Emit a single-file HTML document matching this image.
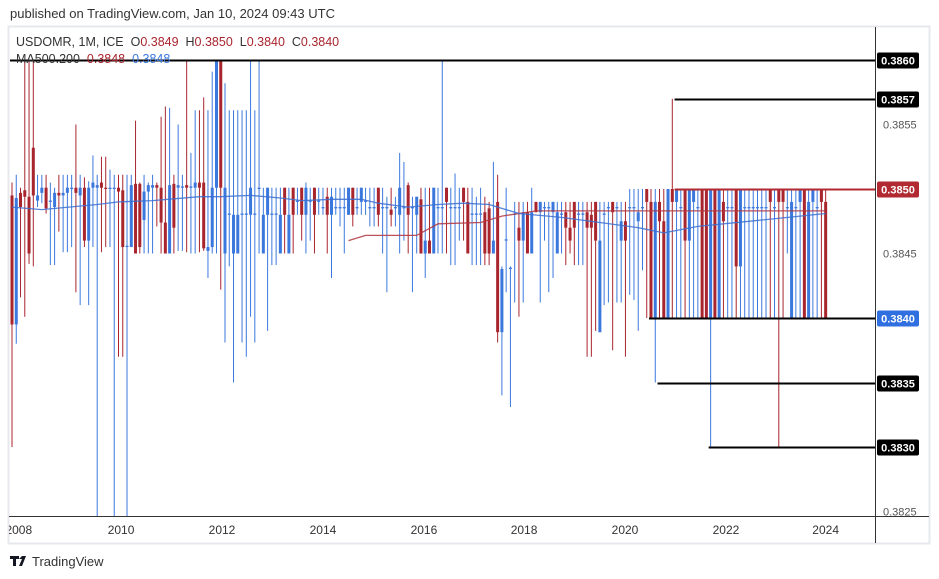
<!DOCTYPE html>
<html><head><meta charset="utf-8"><style>
body{margin:0;background:#fff;width:939px;height:579px;overflow:hidden;font-family:"Liberation Sans",sans-serif}
svg{display:block}
text{font-family:"Liberation Sans",sans-serif}
</style></head><body>
<svg id="chart" width="939" height="579" viewBox="0 0 939 579" xmlns="http://www.w3.org/2000/svg">
<text x="10" y="18" font-size="13" fill="#333">published on TradingView.com, Jan 10, 2024 09:43 UTC</text>
<rect x="8.5" y="26.5" width="921" height="517" fill="#fff" stroke="#e6e8ee" stroke-width="2"/>
<g id="plot"></g>
<line x1="875.5" y1="27" x2="875.5" y2="543" stroke="#333" stroke-width="1"/>
<line x1="9" y1="516.5" x2="929" y2="516.5" stroke="#333" stroke-width="1"/>
<g id="ticks"></g>
<g id="levels"></g>
<text x="16" y="46" font-size="12.5" fill="#333" xml:space="preserve">USDOMR, 1M, ICE  O<tspan fill="#a9252e">0.3849</tspan>  H<tspan fill="#a9252e">0.3850</tspan>  L<tspan fill="#a9252e">0.3840</tspan>  C<tspan fill="#a9252e">0.3840</tspan></text>
<text x="16" y="63" font-size="12.5" fill="#333" xml:space="preserve">MA500.200  <tspan fill="#a9252e">0.3848</tspan>  <tspan fill="#3b78de">0.3848</tspan></text>
<g>
<path d="M10 556h9v3h-3v7h-3v-7h-3z M19 559h3l-3 7h3l4-10h-4z" fill="#131722"/>
<text x="32" y="566" font-size="13" fill="#333">TradingView</text>
</g>
</svg>
<script>
// price offsets in 1e-5 above 0.38400
const opens=[95,-5,97,99,94,132,91,97,101,90,86,97,95,97,100,101,95,101,60,101,101,105,101,100,100,101,99,55,55,104,104,76,98,101,103,101,74,50,104,101,101,103,101,101,105,105,52,55,101,200,50,80,50,50,80,80,80,80,100,50,80,80,80,50,101,50,101,90,101,80,90,101,90,85,94,80,85,85,85,80,101,85,90,90,85,85,101,85,85,84,85,80,85,103,85,80,92,50,60,50,85,85,101,85,85,85,101,90,80,80,80,82,85,50,90,-11,60,38,80,70,60,82,50,90,82,85,85,82,50,80,82,70,90,80,80,82,80,90,-11,80,85,90,85,60,75,85,85,75,85,100,90,0,90,75,0,100,90,85,100,60,90,85,100,100,0,100,0,90,85,85,100,40,85,85,85,85,85,85,100,85,100,100,85,0,85,90,100,0,90,85,100,90];
const highs=[105,111,101,200,200,200,111,111,111,105,101,111,111,111,111,150,111,109,106,126,111,125,125,115,111,111,111,111,111,153,105,111,105,111,105,156,164,163,111,150,111,200,128,161,161,171,161,191,200,200,182,161,161,161,161,161,200,161,200,101,101,101,101,101,101,101,101,101,101,105,101,101,101,101,101,101,101,101,101,101,101,101,101,101,101,101,101,101,94,101,94,128,121,105,94,94,101,101,101,101,101,200,101,101,112,101,101,101,101,94,101,94,90,121,111,40,101,40,90,90,90,90,101,90,90,90,90,90,90,90,90,90,90,90,90,90,90,90,90,90,90,90,90,90,90,100,100,100,100,100,100,100,100,100,100,170,100,100,100,100,100,100,100,100,100,100,100,100,100,100,100,100,100,100,100,100,100,100,100,100,100,100,100,100,100,100,100,100,100,100,100,100];
const lows=[-100,-20,16,1,42,40,86,89,81,41,41,67,51,51,55,20,10,55,10,55,-155,51,55,55,-155,-30,-30,-155,55,50,50,50,50,50,71,50,50,50,50,52,52,51,50,50,51,52,31,50,50,22,-19,40,-50,50,-19,-30,1,-19,50,50,-10,41,41,50,50,50,50,80,60,50,60,50,80,80,50,31,80,71,50,80,71,80,80,80,71,71,71,50,20,71,71,50,60,50,20,50,50,31,50,50,50,50,50,41,41,60,60,50,41,41,41,41,41,50,-19,-60,20,-69,12,1,12,50,50,82,12,60,20,31,50,50,41,50,41,41,41,-30,-30,-10,-11,10,12,-25,12,12,-30,18,14,-10,37,0,0,-50,0,0,0,0,0,0,0,0,0,0,0,0,-100,0,0,0,0,0,0,0,0,0,0,0,0,0,0,0,-100,0,50,0,0,0,0,0,0,0,0,0];
const closes=[-5,93,86,94,50,95,95,101,85,91,97,95,97,101,101,97,101,60,101,105,103,101,100,101,101,98,55,56,103,50,55,98,103,103,101,74,50,103,70,103,102,101,102,105,101,54,55,101,200,101,101,81,80,80,81,81,101,81,101,80,101,81,81,80,80,80,80,91,80,101,91,80,91,86,80,94,86,86,86,101,80,86,101,91,86,86,80,86,86,80,86,101,86,80,86,94,50,60,50,101,86,86,90,86,86,86,90,50,81,81,81,50,50,60,-11,38,61,39,81,60,82,50,82,82,90,86,86,90,82,81,70,60,70,81,81,70,70,60,60,81,86,82,86,75,60,86,86,82,86,90,0,90,75,0,100,90,100,86,60,100,100,86,0,0,100,0,100,75,86,86,40,100,86,86,86,86,86,86,90,86,90,90,86,90,86,100,0,90,100,86,90,0];
const blueMaIdx=[0,7,20,25,33,44,49,56,63,68,75,82,86,93,100,106,112,119,129,138,147,153,161,173,185,191];
const blueMaVal=[86,84,88,90,91,94,94,95,93,91,92,92,89,86,88,89,88,81,78,74,70,66,71,75,79,81];
const redMaIdx=[79,83,95,100,110,115,123,150,191];
const redMaVal=[60,64,64,73,74,79,83,83,83];
const priceTicks=[0.3855,0.3845,0.3825];
const yearLabels=["2008","2010","2012","2014","2016","2018","2020","2022","2024"];
const yearBarIdx=[1.6,25.6,49.3,73,96.7,120.2,143.9,167.6,191];
const levelVals=[0.3860,0.3857,0.3850,0.3840,0.3835,0.3830];
const levelStartIdx=[0,156,156,150,152,164];

const NS="http://www.w3.org/2000/svg";
const RED="#a9252e",BLUE="#3b78de";
function xs(i){return 12+i*4.26;}
function yp(p){return 318-(p-0.3840)*129000;}
function yo(v){return yp(0.3840+v/100000);}
function mk(tag,attrs,parent){const e=document.createElementNS(NS,tag);for(const k in attrs)e.setAttribute(k,attrs[k]);parent.appendChild(e);return e;}
const plot=document.getElementById('plot');
const clip=mk('clipPath',{id:'pc'},plot);mk('rect',{x:9,y:27,width:866,height:489},clip);
const g=mk('g',{'clip-path':'url(#pc)'},plot);
for(let i=0;i<opens.length;i++){
  const up=closes[i]>=opens[i];const col=up?BLUE:RED;const x=xs(i);
  const w=mk('line',{x1:x,x2:x,y1:yo(highs[i]),y2:yo(lows[i]),stroke:col,'stroke-width':1},g);
  
  
  const t=Math.min(yo(opens[i]),yo(closes[i]));const h=Math.max(1,Math.abs(yo(opens[i])-yo(closes[i])));
  const b=mk('rect',{x:x-1.5,y:t,width:3,height:h,fill:col},g);
  
  
}
function maPath(idx,val,col,name){
  let d='';for(let k=0;k<idx.length;k++)d+=(k?'L':'M')+xs(idx[k]).toFixed(1)+' '+yo(val[k]).toFixed(1);
  const p=mk('path',{d:d,fill:'none',stroke:col,'stroke-width':1.3,opacity:0.85},g);
  
  
}
maPath(redMaIdx,redMaVal,'#b0343d','ma-200-line');
maPath(blueMaIdx,blueMaVal,'#3b6fd0','ma-50-line');
const ticks=document.getElementById('ticks');
const c2=mk('clipPath',{id:'pc2'},ticks);mk('rect',{x:9,y:517,width:866,height:26},c2);
priceTicks.forEach(p=>{const t=mk('text',{x:883,y:yp(p)+4,'font-size':11,fill:'#555'},ticks);t.textContent=p.toFixed(4);
  
  });
yearLabels.forEach((s,k)=>{const t=mk('text',{x:xs(yearBarIdx[k]),y:534,'font-size':12,fill:'#333','text-anchor':'middle','clip-path':'url(#pc2)'},ticks);t.textContent=s;
  
  });
const lv=document.getElementById('levels');
levelVals.forEach((p,k)=>{
  const y=Math.round(yp(p))+0.5;const isRed=p===0.3850,isBlue=p===0.3840;
  const col=isRed?'#b22a31':'#000';
  const l=mk('line',{x1:xs(levelStartIdx[k])-2,x2:875,y1:y,y2:y,stroke:col,'stroke-width':2},lv);
  
  
  const bg=isRed?'#b22a31':isBlue?'#2f6fe0':'#000';
  const r=mk('rect',{x:877,y:y-8,width:42,height:16,rx:2,fill:bg},lv);
  
  
  const t=mk('text',{x:898,y:y+4,'font-size':11,'font-weight':'bold',fill:'#fff','text-anchor':'middle'},lv);t.textContent=p.toFixed(4);
  
  
});
</script>
</body></html>
